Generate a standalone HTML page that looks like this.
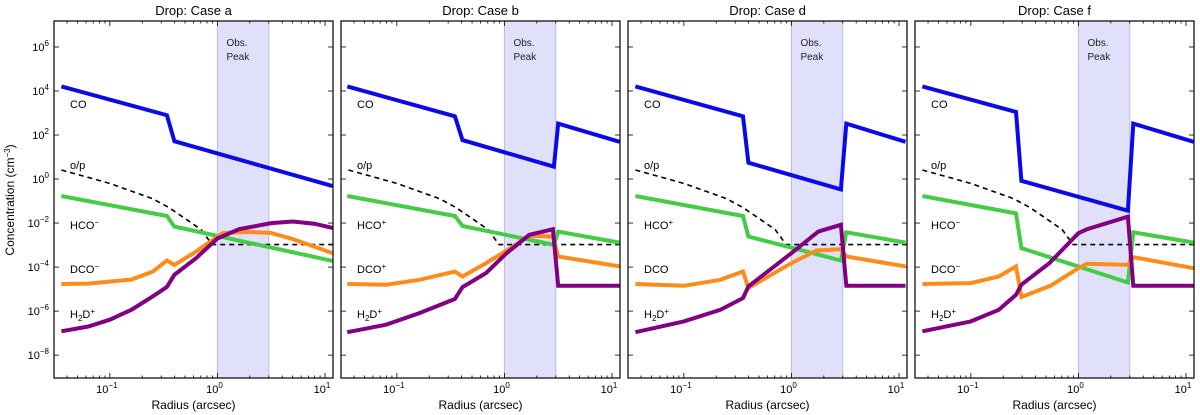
<!DOCTYPE html>
<html><head><meta charset="utf-8">
<style>
body{margin:0;background:#fff;}
svg{display:block;font-family:"Liberation Sans","DejaVu Sans",sans-serif;}
</style></head>
<body>
<svg id="chart" width="1200" height="415" viewBox="0 0 1200 415" xmlns="http://www.w3.org/2000/svg">
<text transform="translate(14,200) rotate(-90)" text-anchor="middle" font-size="12">Concentration (cm<tspan dy="-4" font-size="8">−3</tspan><tspan dy="4">)</tspan></text>
</svg>
<script>
// Data: pairs of [log10(radius arcsec), log10(concentration cm^-3)]
const panelTitles = ["Drop: Case a","Drop: Case b","Drop: Case d","Drop: Case f"];
const yTickExps = [6,4,2,0,-2,-4,-6,-8];
const xTickExps = [-1,0,1];
const bandRange = [1,3];
const opRatio = [[-1.45,0.41],[-1.0,-0.2],[-0.6,-0.9],[-0.45,-1.3],[-0.3,-1.8],[-0.15,-2.3],[-0.05,-2.98],[1.07,-2.98]];

const caseA_CO = [[-1.45,4.21],[-0.47,2.9],[-0.40,1.72],[1.07,-0.32]];
const caseA_HCO = [[-1.45,-0.77],[-0.47,-1.68],[-0.40,-2.16],[1.07,-3.72]];
const caseA_DCO = [[-1.45,-4.77],[-1.2,-4.75],[-0.8,-4.57],[-0.6,-4.2],[-0.47,-3.7],[-0.40,-3.9],[-0.2,-3.3],[0.05,-2.45],[0.3,-2.4],[0.5,-2.45],[0.7,-2.73],[0.9,-3.07],[1.07,-3.37]];
const caseA_H2D = [[-1.45,-6.92],[-1.2,-6.7],[-1.0,-6.39],[-0.8,-5.94],[-0.6,-5.33],[-0.47,-4.9],[-0.40,-4.35],[-0.2,-3.6],[0,-2.7],[0.2,-2.28],[0.5,-2.0],[0.7,-1.93],[0.9,-2.03],[1.07,-2.22]];

const caseB_CO = [[-1.46,4.21],[-0.46,2.85],[-0.39,1.77],[0.46,0.56],[0.50,2.52],[1.07,1.69]];
const caseB_HCO = [[-1.46,-0.77],[-0.46,-1.68],[-0.39,-2.13],[0.46,-2.99],[0.50,-2.39],[1.07,-2.89]];
const caseB_DCO = [[-1.46,-4.77],[-1.1,-4.8],[-0.79,-4.58],[-0.46,-4.2],[-0.39,-4.43],[-0.17,-3.82],[0.08,-3.07],[0.23,-2.58],[0.45,-2.61],[0.50,-3.52],[1.07,-3.97]];
const caseB_H2D = [[-1.46,-6.96],[-1.1,-6.62],[-0.79,-6.09],[-0.46,-5.45],[-0.39,-4.91],[-0.17,-4.27],[0.02,-3.37],[0.23,-2.54],[0.45,-2.28],[0.50,-4.85],[1.07,-4.85]];

const caseD_CO = [[-1.45,4.21],[-0.45,2.85],[-0.40,0.74],[0.46,-0.47],[0.51,2.52],[1.06,1.69]];
const caseD_HCO = [[-1.45,-0.77],[-0.45,-1.68],[-0.40,-2.61],[0.46,-3.70],[0.51,-2.42],[1.06,-2.89]];
const caseD_DCO = [[-1.45,-4.77],[-1.0,-4.85],[-0.66,-4.58],[-0.45,-4.2],[-0.40,-4.95],[0,-3.82],[0.23,-3.25],[0.46,-3.19],[0.51,-3.52],[1.06,-3.97]];
const caseD_H2D = [[-1.45,-6.96],[-1.0,-6.47],[-0.66,-5.94],[-0.45,-5.41],[-0.40,-4.88],[0,-3.37],[0.25,-2.39],[0.46,-2.08],[0.51,-4.85],[1.06,-4.85]];

const caseF_CO = [[-1.45,4.21],[-0.58,3.05],[-0.53,-0.08],[0.46,-1.44],[0.51,2.52],[1.07,1.69]];
const caseF_HCO = [[-1.45,-0.77],[-0.58,-1.56],[-0.53,-3.14],[0.46,-4.70],[0.51,-2.42],[1.07,-2.89]];
const caseF_DCO = [[-1.45,-4.77],[-1.0,-4.73],[-0.74,-4.43],[-0.58,-3.97],[-0.53,-5.36],[-0.26,-4.85],[0,-4.05],[0.08,-3.85],[0.46,-3.9],[0.51,-3.55],[1.07,-4.05]];
const caseF_H2D = [[-1.45,-6.92],[-1.0,-6.47],[-0.74,-5.94],[-0.58,-5.26],[-0.53,-4.80],[-0.27,-3.82],[0,-2.46],[0.08,-2.28],[0.46,-1.71],[0.51,-4.85],[1.07,-4.85]];

const panelCO = [caseA_CO, caseB_CO, caseD_CO, caseF_CO];
const panelHCO = [caseA_HCO, caseB_HCO, caseD_HCO, caseF_HCO];
const panelDCO = [caseA_DCO, caseB_DCO, caseD_DCO, caseF_DCO];
const panelH2D = [caseA_H2D, caseB_H2D, caseD_H2D, caseF_H2D];
const hcoSign = ["−","+","+","−"];
const dcoSign = ["−","+","",  "−"];

const NS = "http://www.w3.org/2000/svg";
const svg = document.getElementById("chart");
const LOGX0 = -1.519, LOGX1 = 1.074, LOGY0 = -9.04, LOGY1 = 7.18;
const PW = 279, PT = 21, PB = 378;
const panelLeft = i => 54 + i * 287;
function mk(tag, attrs, parent) {
  const e = document.createElementNS(NS, tag);
  for (const k in attrs) e.setAttribute(k, attrs[k]);
  (parent || svg).appendChild(e);
  return e;
}
function sx(i, lx) { return panelLeft(i) + (lx - LOGX0) / (LOGX1 - LOGX0) * PW; }
function sy(ly) { return PB - (ly - LOGY0) / (LOGY1 - LOGY0) * (PB - PT); }
function pathOf(i, pts) { return pts.map((p, k) => (k ? "L" : "M") + sx(i, p[0]).toFixed(1) + "," + sy(p[1]).toFixed(1)).join(""); }

for (let i = 0; i < 4; i++) {
  const L = panelLeft(i);
  const g = mk("g", {});
  
  
  const b = mk("rect", {x: sx(i, Math.log10(bandRange[0])), y: PT, width: sx(i, Math.log10(bandRange[1])) - sx(i, Math.log10(bandRange[0])), height: PB - PT, fill: "#e0e0fa", stroke: "#b8bce0", "stroke-width": 1}, g);
  
  
  const bt = mk("text", {x: sx(i, 0) + 9, y: 46, "font-size": 10, fill: "#222"}, g);
  
  
  bt.innerHTML = '<tspan>Obs.</tspan><tspan x="' + (sx(i, 0) + 9) + '" dy="14">Peak</tspan>';
  const t = mk("text", {x: L + PW / 2, y: 15, "text-anchor": "middle", "font-size": 13}, g);
  
  
  t.textContent = panelTitles[i];
  for (let d = -2; d <= 1; d++) for (let m = 1; m <= 9; m++) {
    const lx = d + Math.log10(m);
    if (lx < LOGX0 || lx > LOGX1) continue;
    const x = sx(i, lx), len = m === 1 ? 5 : 2.5;
    mk("line", {x1: x, x2: x, y1: PB, y2: PB - len, stroke: "#000", "stroke-width": 0.8}, g);
    mk("line", {x1: x, x2: x, y1: PT, y2: PT + len, stroke: "#000", "stroke-width": 0.8}, g);
  }
  xTickExps.forEach(e => {
    const tx = mk("text", {x: sx(i, e) - 3, y: PB + 15, "text-anchor": "middle", "font-size": 11}, g);
    
    
    tx.innerHTML = '10<tspan dy="-5" font-size="8">' + (e < 0 ? "−" + (-e) : e) + '</tspan>';
  });
  yTickExps.forEach(e => {
    const y = sy(e);
    mk("line", {x1: L, x2: L + 5, y1: y, y2: y, stroke: "#000", "stroke-width": 0.8}, g);
    mk("line", {x1: L + PW - 5, x2: L + PW, y1: y, y2: y, stroke: "#000", "stroke-width": 0.8}, g);
    if (i === 0) {
      const ty = mk("text", {x: L - 5, y: y + 4, "text-anchor": "end", "font-size": 11}, g);
      
      
      ty.innerHTML = '10<tspan dy="-5" font-size="8">' + (e < 0 ? "−" + (-e) : e) + '</tspan>';
    }
  });
  const xl = mk("text", {x: L + PW / 2, y: 409, "text-anchor": "middle", "font-size": 12}, g);
  
  
  xl.textContent = "Radius (arcsec)";
  const series = [[opRatio, "#000", 1.6, "5,4", "op-ratio-line"], [panelHCO[i], "#44cc44", 4, "", "hco-line"], [panelDCO[i], "#ff8c1a", 4, "", "dco-line"], [panelH2D[i], "#800080", 4, "", "h2d-line"], [panelCO[i], "#0a0ae8", 4, "", "co-line"]];
  series.forEach(s => {
    const p = mk("path", {d: pathOf(i, s[0]), fill: "none", stroke: s[1], "stroke-width": s[2], "stroke-dasharray": s[3], "stroke-linejoin": "miter"}, g);
    
    
  });
  const labs = [["CO", 108, "co-label"], ["o/p", 169, "op-label"], ["HCO<tspan dy='-4' font-size='8'>" + hcoSign[i] + "</tspan>", 229, "hco-label"], ["DCO<tspan dy='-4' font-size='8'>" + dcoSign[i] + "</tspan>", 273, "dco-label"], ["H<tspan dy='3' font-size='8'>2</tspan><tspan dy='-3'>D</tspan><tspan dy='-4' font-size='8'>+</tspan>", 318, "h2d-label"]];
  labs.forEach(l => {
    const tl = mk("text", {x: L + 16, y: l[1], "font-size": 11}, g);
    
    
    tl.innerHTML = l[0];
  });
  const fr = mk("rect", {x: L, y: PT, width: PW, height: PB - PT, fill: "none", stroke: "#000", "stroke-width": 1.2}, g);
  
  
}
</script>
</body></html>
